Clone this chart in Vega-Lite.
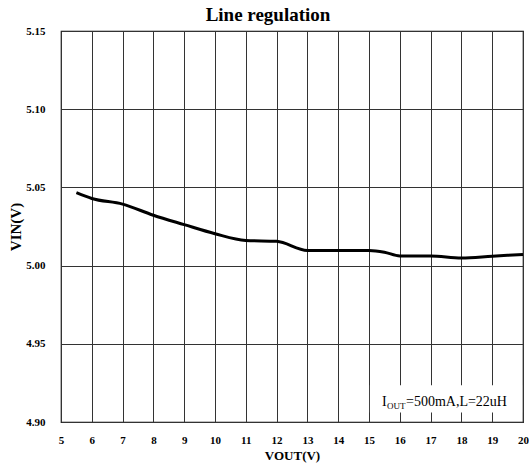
{
  "$schema": "https://vega.github.io/schema/vega-lite/v6.json",
  "width": 462,
  "height": 391,
  "autosize": {"type": "none"},
  "padding": {"left": 61, "top": 31, "right": 6, "bottom": 46},
  "title": {"text": "Line regulation", "font": "Liberation Serif", "fontSize": 19, "fontWeight": "bold", "color": "black", "offset": 0, "anchor": "middle", "dx": -24},
  "config": {
    "view": {"stroke": "black", "strokeWidth": 1.2},
    "axis": {"labelFont": "Liberation Serif", "labelFontWeight": "bold", "labelColor": "black", "labelFontSize": 11, "titleFont": "Liberation Serif", "titleFontWeight": "bold", "titleColor": "black", "titleFontSize": 13, "gridColor": "#333", "gridOpacity": 1, "gridWidth": 1, "domain": false, "ticks": false, "labelOverlap": false, "labelFlush": false, "labelBound": false}
  },
  "data": {"values": [
    {"vout": 5.5, "vin": 5.0466},
    {"vout": 6, "vin": 5.0429},
    {"vout": 7, "vin": 5.0393},
    {"vout": 8, "vin": 5.0322},
    {"vout": 9, "vin": 5.0262},
    {"vout": 10, "vin": 5.0204},
    {"vout": 11, "vin": 5.0161},
    {"vout": 12, "vin": 5.0155},
    {"vout": 13, "vin": 5.0097},
    {"vout": 14, "vin": 5.0097},
    {"vout": 15, "vin": 5.0097},
    {"vout": 15.5, "vin": 5.0086},
    {"vout": 16, "vin": 5.0062},
    {"vout": 17, "vin": 5.0062},
    {"vout": 18, "vin": 5.0049},
    {"vout": 19, "vin": 5.006},
    {"vout": 20, "vin": 5.0071}
  ]},
  "layer": [
    {
      "mark": {"type": "line", "color": "black", "strokeWidth": 3, "interpolate": "monotone"},
      "encoding": {
        "x": {"field": "vout", "type": "quantitative", "scale": {"domain": [5, 20], "nice": false, "zero": false}, "axis": {"values": [5,6,7,8,9,10,11,12,13,14,15,16,17,18,19,20], "labelPadding": 12, "title": "VOUT(V)", "titlePadding": 4}},
        "y": {"field": "vin", "type": "quantitative", "scale": {"domain": [4.9, 5.15], "nice": false, "zero": false}, "axis": {"values": [4.9, 4.95, 5.0, 5.05, 5.1, 5.15], "format": ".2f", "labelPadding": 16, "title": "VIN(V)", "titlePadding": 2, "titleFontSize": 15}}
      }
    },
    {
      "data": {"values": [{"x1": 15.03, "x2": 19.97, "y1": 4.906, "y2": 4.9235}]},
      "mark": {"type": "rect", "fill": "white"},
      "encoding": {
        "x": {"field": "x1", "type": "quantitative", "scale": {"domain": [5, 20], "nice": false, "zero": false}, "axis": {"values": [5,6,7,8,9,10,11,12,13,14,15,16,17,18,19,20], "labelPadding": 12, "title": "VOUT(V)", "titlePadding": 4}},
        "x2": {"field": "x2"},
        "y": {"field": "y1", "type": "quantitative", "scale": {"domain": [4.9, 5.15], "nice": false, "zero": false}, "axis": {"values": [4.9, 4.95, 5.0, 5.05, 5.1, 5.15], "format": ".2f", "labelPadding": 16, "title": "VIN(V)", "titlePadding": 2, "titleFontSize": 15}},
        "y2": {"field": "y2"}
      }
    },
    {
      "data": {"values": [
        {"xm": 15, "ym": 4.9105, "t": "I", "part": "a"},
        {"xm": 15, "ym": 4.9105, "t": "OUT", "part": "b"},
        {"xm": 15, "ym": 4.9105, "t": "=500mA,L=22uH", "part": "c"}
      ]},
      "encoding": {
        "x": {"field": "xm", "type": "quantitative", "scale": {"domain": [5, 20], "nice": false, "zero": false}, "axis": {"values": [5,6,7,8,9,10,11,12,13,14,15,16,17,18,19,20], "labelPadding": 12, "title": "VOUT(V)", "titlePadding": 4}},
        "y": {"field": "ym", "type": "quantitative", "scale": {"domain": [4.9, 5.15], "nice": false, "zero": false}, "axis": {"values": [4.9, 4.95, 5.0, 5.05, 5.1, 5.15], "format": ".2f", "labelPadding": 16, "title": "VIN(V)", "titlePadding": 2, "titleFontSize": 15}},
        "text": {"field": "t"}
      },
      "layer": [
        {"transform": [{"filter": "datum.part == 'a'"}], "mark": {"type": "text", "font": "Liberation Serif", "fontSize": 14, "fill": "black", "align": "left", "baseline": "alphabetic", "dx": 13}},
        {"transform": [{"filter": "datum.part == 'b'"}], "mark": {"type": "text", "font": "Liberation Serif", "fontSize": 9, "fill": "black", "align": "left", "baseline": "alphabetic", "dx": 18, "dy": 3}},
        {"transform": [{"filter": "datum.part == 'c'"}], "mark": {"type": "text", "font": "Liberation Serif", "fontSize": 14, "fill": "black", "align": "left", "baseline": "alphabetic", "dx": 37}}
      ]
    }
  ]
}
